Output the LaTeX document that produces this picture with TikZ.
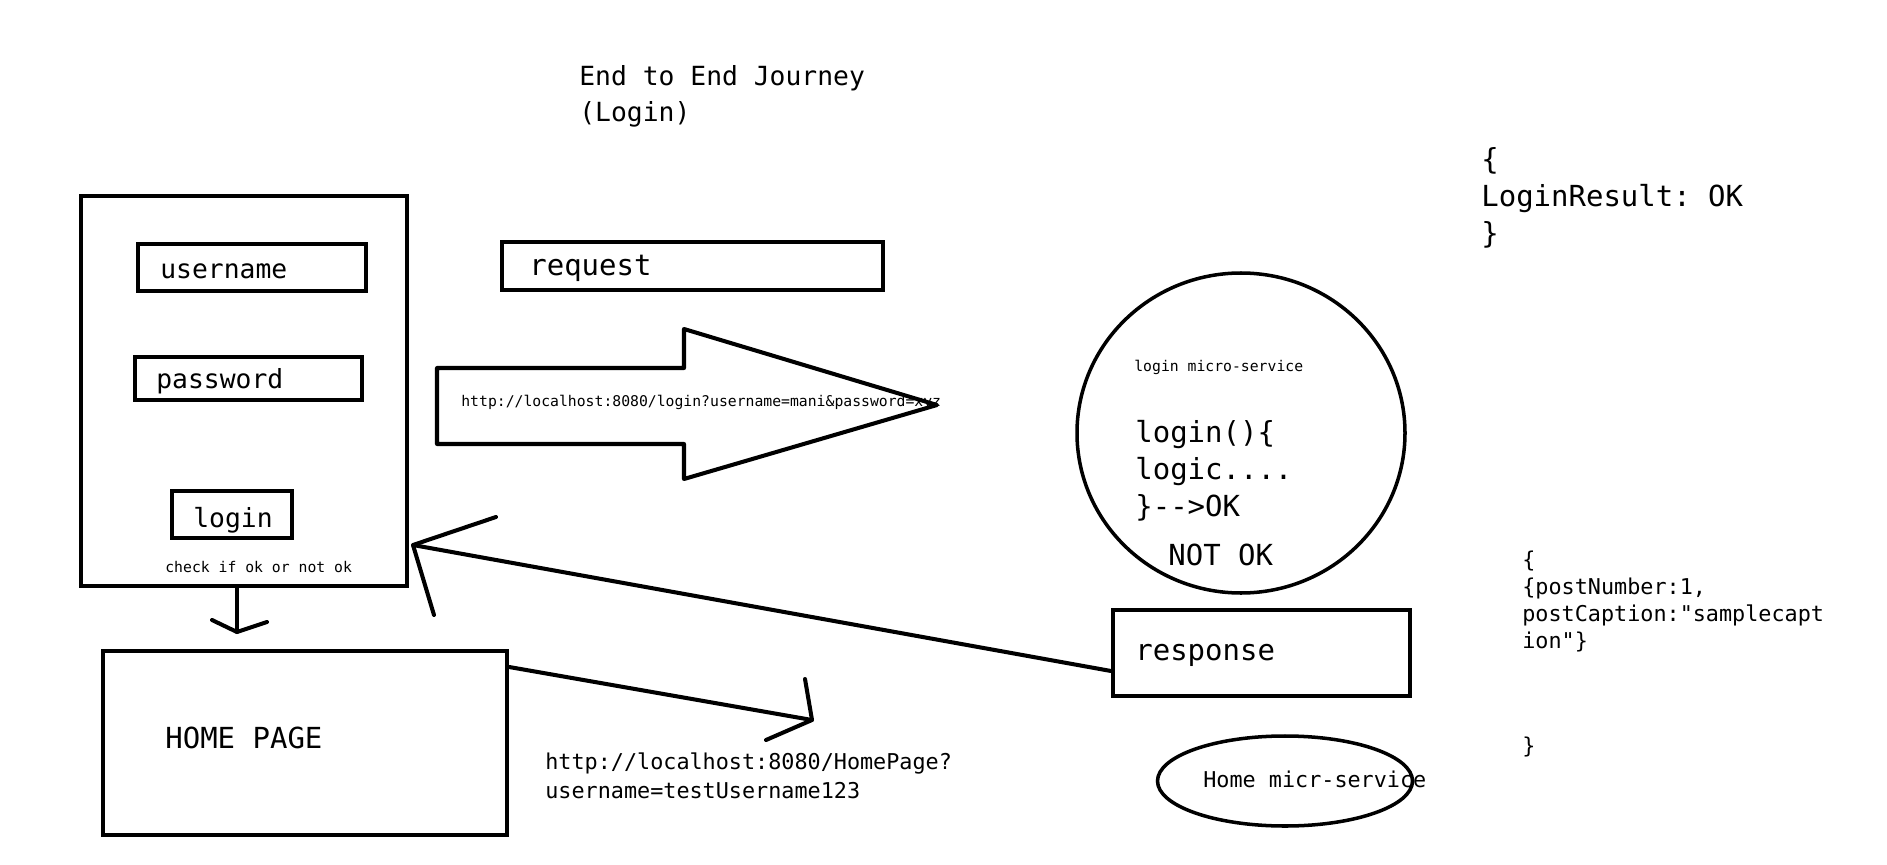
\documentclass[tikz,border=0pt]{standalone}
\usepackage{fontspec}
\setmonofont{DejaVu Sans Mono}
\usetikzlibrary{arrows,shapes,calc,positioning}
\newcommand{\pxu}{0.02cm}
\newcommand{\sizeS}{\fontsize{8.4pt}{10pt}\selectfont}
\newcommand{\sizeM}{\fontsize{12.4pt}{15.3pt}\selectfont}
\newcommand{\sizeL}{\fontsize{15pt}{21pt}\selectfont}
\newcommand{\sizeXL}{\fontsize{16.5pt}{21pt}\selectfont}

\begin{document}
\begin{tikzpicture}[x=0.02cm,y=-0.02cm]
			\tikzstyle{every node}=[font=\ttfamily, inner sep=0pt]
			\tikzstyle{box}=[draw, line width=2.3pt, rectangle]
			\tikzstyle{oval}=[draw, line width=2pt, ellipse]
			\tikzstyle{stroke}=[line width=2.3pt, line cap=round, line join=round]
			\useasboundingbox (0,0) rectangle (1887,865);
			% title (base = last line)
			\node [font=\ttfamily\sizeL, align=left, anchor=base west] (title) at (579,122) {End to End Journey\\(Login)};
			% login page
			\node [box, minimum width=326*\pxu, minimum height=390*\pxu] (loginpage) at (244,391) {};
			\node [box, minimum width=228*\pxu, minimum height=47*\pxu] (user) at (252,267.5) {};
			\node [box, minimum width=227*\pxu, minimum height=43*\pxu] (pass) at (248.5,378.5) {};
			\node [box, minimum width=120*\pxu, minimum height=47*\pxu] (loginbtn) at (232,514.5) {};
			\node [font=\ttfamily\sizeL, anchor=base west] (usertxt) at (160,278) {username};
			\node [font=\ttfamily\sizeL, anchor=base west] (passtxt) at (156,388) {password};
			\node [font=\ttfamily\sizeL, anchor=base west] (logintxt) at (193,527) {login};
			\node [font=\ttfamily\sizeS, anchor=base west] (checktxt) at (165,572) {check if ok or not ok};
			% request
			\node [box, minimum width=381*\pxu, minimum height=48*\pxu] (request) at (692.5,266) {};
			\node [font=\ttfamily\sizeXL, anchor=base west] (requesttxt) at (529,275) {request};
			\draw [stroke] (437,368) -- (684,368) -- (684,329) -- (937,405) -- (684,479) -- (684,444) -- (437,444) -- cycle;
			\node [font=\ttfamily\sizeS, anchor=base west] (loginurl) at (461,406) {http://localhost:8080/login?username=mani\&password=xyz};
			% login micro-service
			\node [oval, minimum width=328*\pxu, minimum height=320*\pxu] (loginsvc) at (1241,433) {};
			\node [font=\ttfamily\sizeS, anchor=base west] (svclabel) at (1134,371) {login micro-service};
			\node [font=\ttfamily\sizeXL, align=left, anchor=base west] (svccode) at (1135,516) {login()\{\\logic....\\\}-{}->OK};
			\node [font=\ttfamily\sizeXL, anchor=base west] (notok) at (1168,565) {NOT OK};
			\node [font=\ttfamily\sizeXL, align=left, anchor=base west] (loginresult) at (1481,243) {\{\\LoginResult: OK\\\}};
			% response
			\node [box, minimum width=297*\pxu, minimum height=86*\pxu] (response) at (1261.5,653) {};
			\node [font=\ttfamily\sizeXL, anchor=base west] (responsetxt) at (1135,660) {response};
			\coordinate (resptip) at (413,545);
			\draw [stroke] ([shift={(0,18)}]response.west) -- (resptip);
			\draw [stroke] (resptip) ++(83,-28) -- (resptip) -- ++(21,70);
			% home page
			\node [box, minimum width=404*\pxu, minimum height=184*\pxu] (homepage) at (305,743) {};
			\node [font=\ttfamily\sizeXL, anchor=base west] (hometxt) at (165,748) {HOME PAGE};
			\coordinate (downtip) at (237,632);
			\draw [stroke] (loginpage.south -| downtip) -- (downtip);
			\draw [stroke] (downtip) ++(-25,-12) -- (downtip) -- ++(30,-10);
			\coordinate (hometip) at (812,720);
			\draw [stroke] ([shift={(0,18)}]homepage.north east) -- (hometip);
			\draw [stroke] (hometip) ++(-7,-41) -- (hometip) -- ++(-46,20);
			\node [font=\ttfamily\sizeM, align=left, anchor=base west] (homeurl) at (545,798) {http://localhost:8080/HomePage?\\[1pt]username=testUsername123};
			% home micro-service
			\node [oval, minimum width=255*\pxu, minimum height=90*\pxu] (homesvc) at (1285,781) {};
			\node [font=\ttfamily\sizeM, anchor=base west] (homesvctxt) at (1203,787) {Home micr-service};
			\node [font=\ttfamily\sizeM, align=left, anchor=base west] (postjson) at (1522,648) {\{\\\{postNumber:1,\\postCaption:"samplecapt\\ion"\}};
			\node [font=\ttfamily\sizeM, anchor=base west] (postclose) at (1522,753) {\}};
\end{tikzpicture}
\end{document}
